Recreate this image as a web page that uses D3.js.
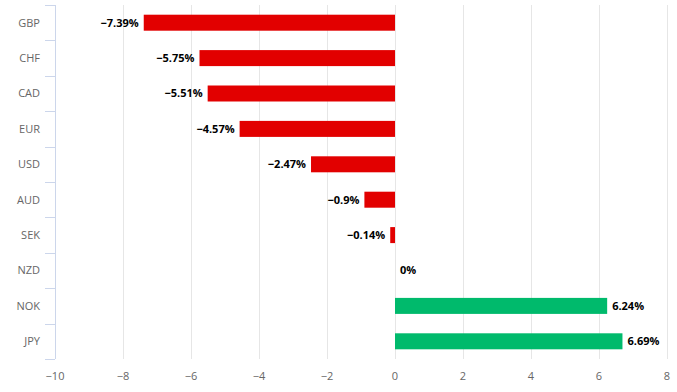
<!DOCTYPE html>
<html><head><meta charset="utf-8">
<script src="https://cdn.jsdelivr.net/npm/d3@7"></script>
<style>body{margin:0;background:#fff;font-family:"Open Sans","Lucida Grande",Arial,sans-serif;}</style>
</head><body><svg id="c" width="677" height="392"></svg>
<script>
const categories = ["GBP","CHF","CAD","EUR","USD","AUD","SEK","NZD","NOK","JPY"];
const values = [-7.39,-5.75,-5.51,-4.57,-2.47,-0.9,-0.14,0,6.24,6.69];
const xTicks = [-10,-8,-6,-4,-2,0,2,4,6,8];
const negColor = "#e20000", posColor = "#00ba6c";

(function(){
const svg = d3.select("#c");
const mL = 55, mR = 667, mT = 5, mB = 359;
const x = d3.scaleLinear().domain([-10,8]).range([mL,mR]);
const y = d3.scaleBand().domain(categories).range([mT,mB]);
const fmt = v => (v<0?"\u2212":"") + Math.abs(v);

svg.append("g").selectAll("line").data(xTicks.filter(t=>t!==-10)).join("line")
  .attr("x1",d=>Math.round(x(d))+0.5).attr("x2",d=>Math.round(x(d))+0.5)
  .attr("y1",mT).attr("y2",mB).attr("stroke","#e6e6e6");

svg.append("line").attr("x1",mL+0.5).attr("x2",mL+0.5).attr("y1",mT).attr("y2",mB).attr("stroke","#ccd6eb");
const bounds = categories.map(c=>y(c)).concat([mB]);
svg.append("g").selectAll("line").data(bounds).join("line")
  .attr("x1",mL-10).attr("x2",mL).attr("y1",d=>Math.round(d)+0.5).attr("y2",d=>Math.round(d)+0.5).attr("stroke","#ccd6eb");

svg.append("g").selectAll("text").data(categories).join("text")
  .attr("x",mL-15).attr("y",d=>y(d)+y.bandwidth()/2).attr("dy","0.35em")
  .attr("text-anchor","end").attr("fill","#666").attr("font-size","11px").text(d=>d);

svg.append("g").selectAll("text").data(xTicks).join("text")
  .attr("x",d=>x(d)).attr("y",380).attr("text-anchor","middle")
  .attr("fill","#666").attr("font-size","11px").text(d=>fmt(d));

const bh = 16;
svg.append("g").selectAll("rect").data(values).join("rect")
  .attr("x",d=>x(Math.min(0,d))).attr("width",d=>Math.abs(x(d)-x(0)))
  .attr("y",(d,i)=>y(categories[i])+y.bandwidth()/2-bh/2).attr("height",bh)
  .attr("fill",d=>d<0?negColor:posColor);

svg.append("g").selectAll("text").data(values).join("text")
  .attr("x",d=>d<0?x(d)-5:x(d)+5)
  .attr("y",(d,i)=>y(categories[i])+y.bandwidth()/2).attr("dy","0.35em")
  .attr("text-anchor",d=>d<0?"end":"start")
  .attr("font-size","11px").attr("font-weight","bold").attr("fill","#000")
  .text(d=>fmt(d)+"%");
})();
</script></body></html>
